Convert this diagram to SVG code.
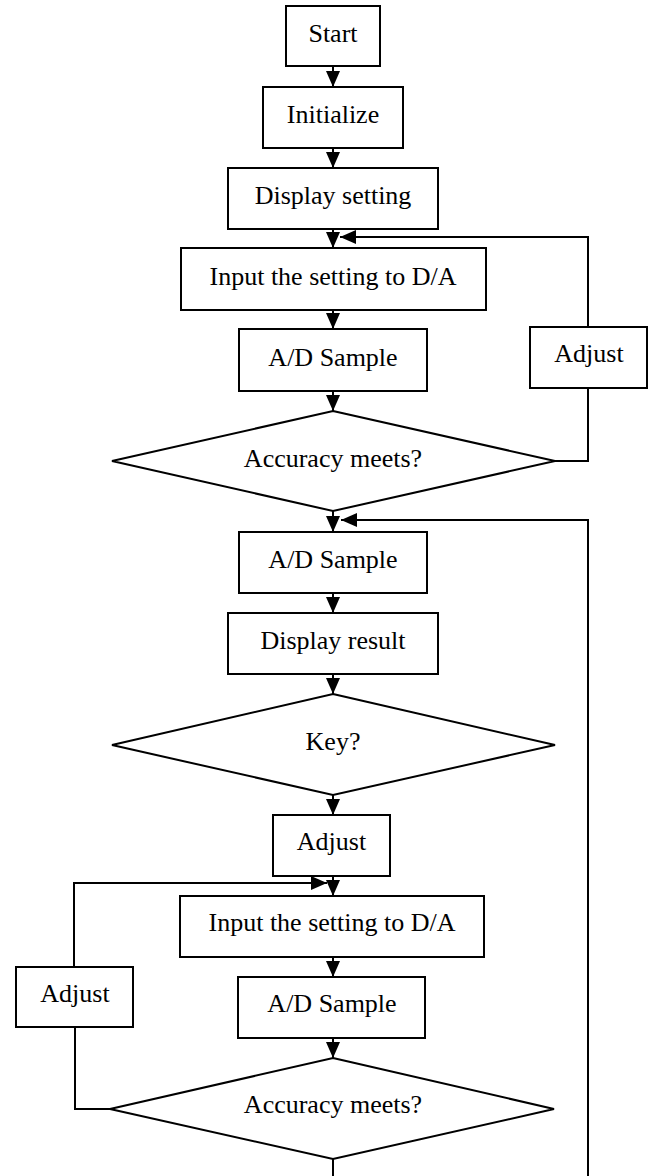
<svg xmlns="http://www.w3.org/2000/svg" width="653" height="1176" viewBox="0 0 653 1176">
  <style>
    .box { fill: #fff; stroke: #000; stroke-width: 2; }
    .lbl { font-family: "Liberation Serif", "Times New Roman", serif; font-size: 26px; fill: #000; text-anchor: middle; }
    .wire { fill: none; stroke: #000; stroke-width: 2; }
    .arrow { marker-end: url(#head); }
  </style>
  <defs>
    <marker id="head" viewBox="0 0 16 14" refX="16" refY="7" markerWidth="16" markerHeight="14" markerUnits="userSpaceOnUse" orient="auto">
      <path d="M0,0 L16,7 L0,14 z" fill="#000"/>
    </marker>
  </defs>

  <rect width="653" height="1176" fill="#fff"/>

  <!-- connectors -->
  <g id="connectors">
    <line class="wire arrow" x1="333" y1="66" x2="333" y2="87"/>
    <line class="wire arrow" x1="333" y1="148" x2="333" y2="168"/>
    <line class="wire arrow" x1="333" y1="229" x2="333" y2="248"/>
    <line class="wire arrow" x1="333" y1="310" x2="333" y2="329"/>
    <line class="wire arrow" x1="333" y1="391" x2="333" y2="411"/>
    <!-- first calibration loop (right side) -->
    <polyline class="wire" points="555,461 588,461 588,388"/>
    <polyline class="wire arrow" points="588,327 588,237 340,237"/>
    <line class="wire arrow" x1="333" y1="511" x2="333" y2="532"/>
    <!-- return line from the bottom -->
    <polyline class="wire arrow" points="588,1176 588,520 341,520"/>
    <line class="wire arrow" x1="333" y1="593" x2="333" y2="613"/>
    <line class="wire arrow" x1="333" y1="674" x2="333" y2="694"/>
    <line class="wire arrow" x1="333" y1="795" x2="333" y2="815"/>
    <line class="wire arrow" x1="333" y1="876" x2="333" y2="896"/>
    <!-- second calibration loop (left side) -->
    <polyline class="wire" points="110,1109 75,1109 75,1027"/>
    <polyline class="wire arrow" points="74,967 74,883 327,883"/>
    <line class="wire arrow" x1="333" y1="957" x2="333" y2="977"/>
    <line class="wire arrow" x1="333" y1="1038" x2="333" y2="1058"/>
    <line class="wire" x1="333" y1="1159" x2="333" y2="1176"/>
  </g>

  <g id="start">
    <rect class="box" x="286" y="6" width="94" height="60"/>
    <text class="lbl" x="333" y="41.5">Start</text>
  </g>
  <g id="initialize">
    <rect class="box" x="263" y="87" width="140" height="61"/>
    <text class="lbl" x="333" y="123">Initialize</text>
  </g>
  <g id="display-setting">
    <rect class="box" x="228" y="168" width="210" height="61"/>
    <text class="lbl" x="333" y="204">Display setting</text>
  </g>
  <g id="input-da-1">
    <rect class="box" x="181" y="248" width="305" height="62"/>
    <text class="lbl" x="333" y="284.5">Input the setting to D/A</text>
  </g>
  <g id="ad-sample-1">
    <rect class="box" x="239" y="329" width="188" height="62"/>
    <text class="lbl" x="333" y="365.5">A/D Sample</text>
  </g>
  <g id="accuracy-1">
    <polygon class="box" points="333,411 555,461 333,511 112,461"/>
    <text class="lbl" x="333" y="466.5">Accuracy meets?</text>
  </g>
  <g id="adjust-right">
    <rect class="box" x="530" y="327" width="117" height="61"/>
    <text class="lbl" x="589" y="362">Adjust</text>
  </g>
  <g id="ad-sample-2">
    <rect class="box" x="239" y="532" width="188" height="61"/>
    <text class="lbl" x="333" y="568">A/D Sample</text>
  </g>
  <g id="display-result">
    <rect class="box" x="228" y="613" width="210" height="61"/>
    <text class="lbl" x="333" y="648.5">Display result</text>
  </g>
  <g id="key">
    <polygon class="box" points="333,694 555,745 333,795 112,745"/>
    <text class="lbl" x="333" y="749.5">Key?</text>
  </g>
  <g id="adjust-mid">
    <rect class="box" x="273" y="815" width="117" height="61"/>
    <text class="lbl" x="331.5" y="849.5">Adjust</text>
  </g>
  <g id="input-da-2">
    <rect class="box" x="180" y="896" width="304" height="61"/>
    <text class="lbl" x="332" y="931">Input the setting to D/A</text>
  </g>
  <g id="ad-sample-3">
    <rect class="box" x="238" y="977" width="187" height="61"/>
    <text class="lbl" x="332" y="1012">A/D Sample</text>
  </g>
  <g id="accuracy-2">
    <polygon class="box" points="333,1058 554,1109 333,1159 110,1109"/>
    <text class="lbl" x="333" y="1112.5">Accuracy meets?</text>
  </g>
  <g id="adjust-left">
    <rect class="box" x="16" y="967" width="117" height="60"/>
    <text class="lbl" x="75" y="1001.5">Adjust</text>
  </g>
</svg>
